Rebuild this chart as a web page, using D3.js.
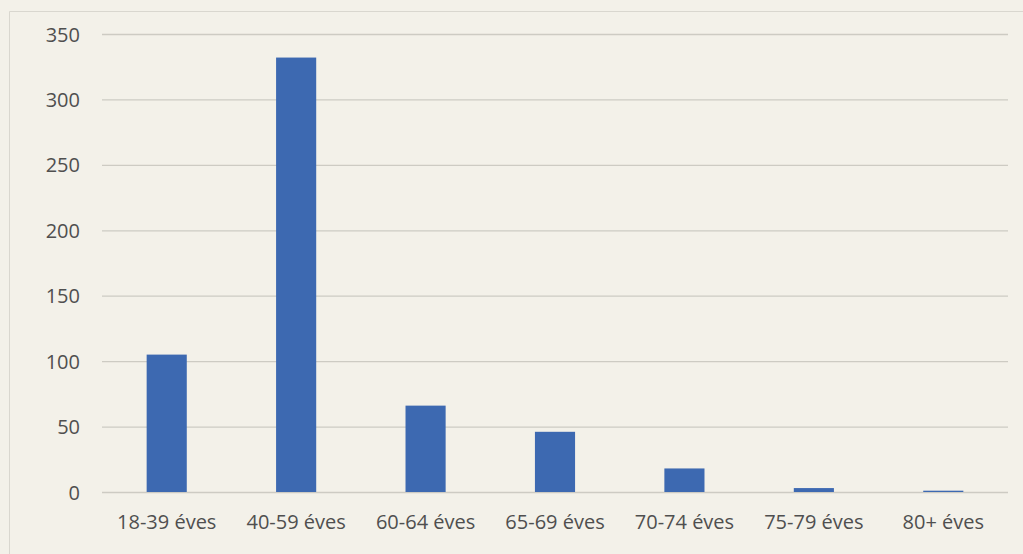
<!DOCTYPE html>
<html><head><meta charset="utf-8">
<script src="https://cdn.jsdelivr.net/npm/d3@7"></script>
<style>
html,body{margin:0;padding:0;background:#f3f1e9;}
svg{display:block;}
</style></head>
<body>
<svg id="chart" width="1023" height="554"></svg>
<script>
const categories = ["18-39 éves","40-59 éves","60-64 éves","65-69 éves","70-74 éves","75-79 éves","80+ éves"];
const values = [105, 332, 66, 46, 18, 3, 1];
const yTicks = [0, 50, 100, 150, 200, 250, 300, 350];

const W = 1023, H = 554;
const margin = {left: 102, right: 15, top: 34, bottom: 62};
const svg = d3.select("#chart");

svg.append("rect").attr("x",0).attr("y",0).attr("width",W).attr("height",H).attr("fill","#f3f1e9");
// chart area border
svg.append("path").attr("d",`M9.5,${H} V11.5 H${W}`).attr("fill","none").attr("stroke","#d9d7cf").attr("stroke-width",1);

const x = d3.scaleBand().domain(categories).range([margin.left, W - margin.right]).paddingInner(0.69).paddingOuter(0.345);
const y = d3.scaleLinear().domain([0, 350]).range([H - margin.bottom, margin.top]);

const font = "'Open Sans', sans-serif";

// grid
const yAxis = d3.axisLeft(y).tickValues(yTicks).tickSize(-(W - margin.right - margin.left)).tickPadding(22);
const gy = svg.append("g").attr("transform",`translate(${margin.left},0)`).call(yAxis);
gy.select(".domain").remove();
gy.selectAll(".tick line").attr("stroke","#cdcbc3").attr("stroke-width",1.3);
gy.selectAll(".tick text").attr("fill","#4f4f4f").style("font-family",font).style("font-size","20px").attr("dy","0.35em");

// bars
svg.append("g").selectAll("rect").data(values).join("rect")
  .attr("x",(d,i)=>x(categories[i]))
  .attr("y",d=>y(d))
  .attr("width",x.bandwidth())
  .attr("height",d=>y(0)-y(d))
  .attr("fill","#3d69b1");

// x axis
const xAxis = d3.axisBottom(x).tickSize(0).tickPadding(23);
const gx = svg.append("g").attr("transform",`translate(0,${y(0)})`).call(xAxis);
gx.select(".domain").remove();
gx.selectAll(".tick text").attr("fill","#4f4f4f").style("font-family",font).style("font-size","20px");
</script>
</body></html>
